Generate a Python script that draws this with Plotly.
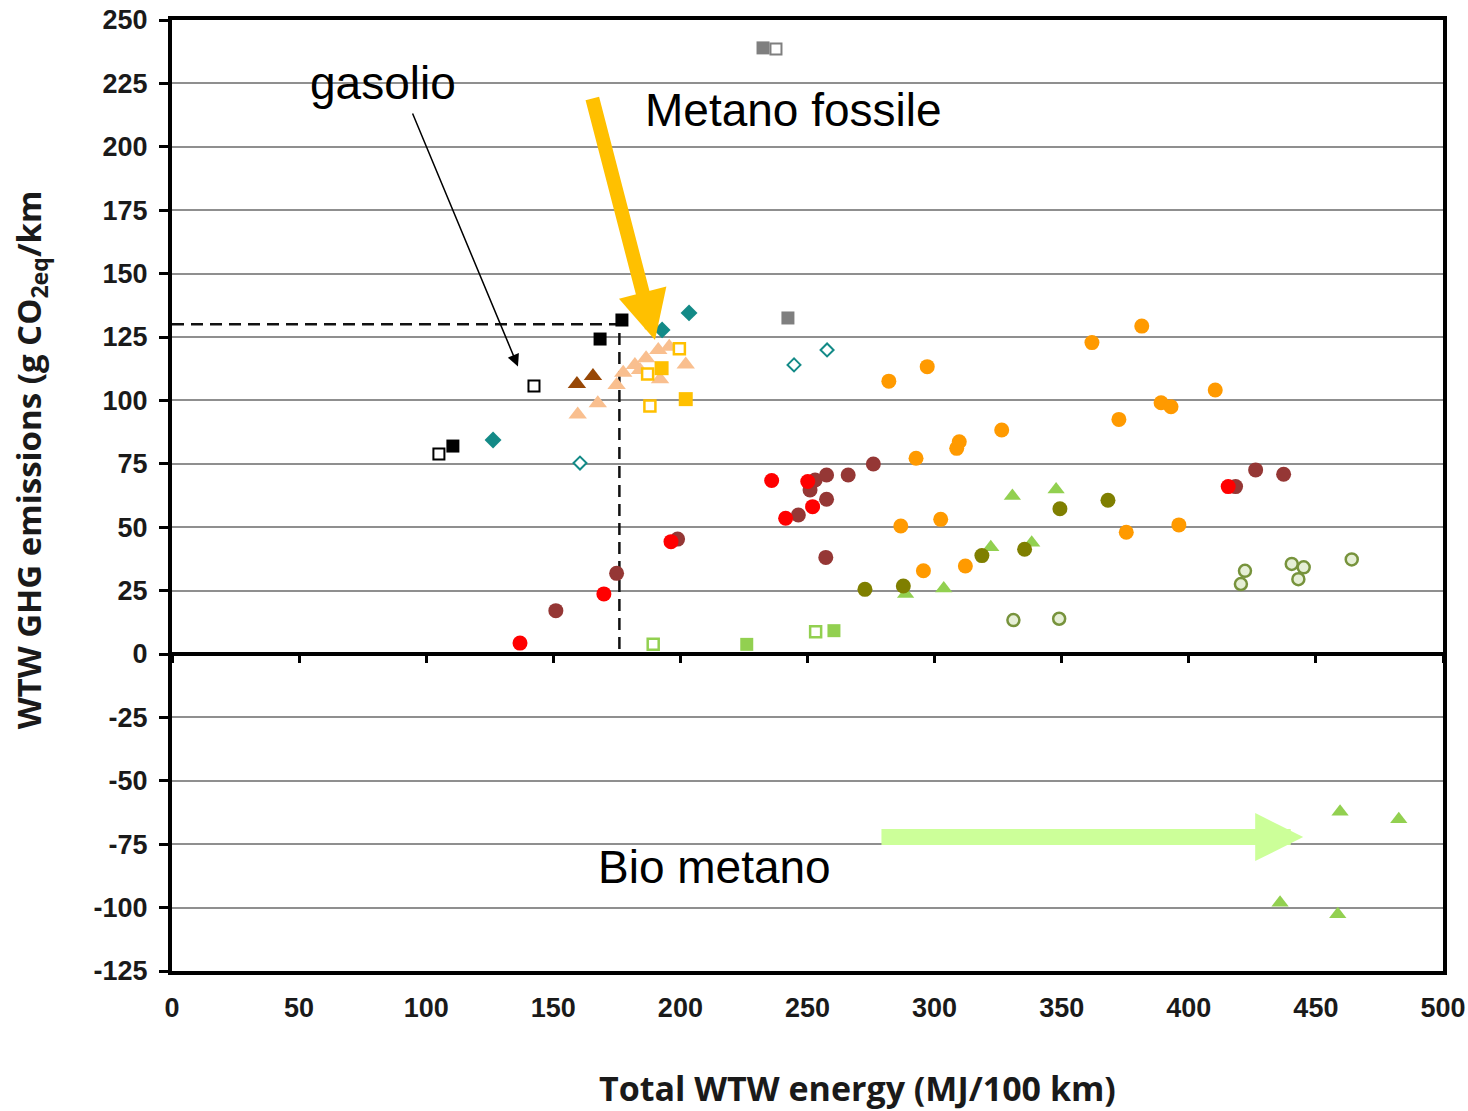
import plotly.graph_objects as go

# ---------------- data ----------------
black_sq_x = [110.5, 168.4, 177.0]
black_sq_y = [82.0, 124.2, 131.7]
black_open_x = [105.0, 142.4]
black_open_y = [78.9, 105.7]
gray_sq_x = [232.5, 242.3]
gray_sq_y = [239.0, 132.5]
gray_open_x = [237.6]
gray_open_y = [238.6]
teal_dia_x = [126.3, 192.8, 203.4]
teal_dia_y = [84.4, 127.8, 134.5]
teal_open_x = [160.5, 244.7, 257.7]
teal_open_y = [75.3, 114.0, 119.9]
brown_tri_x = [159.3, 165.6]
brown_tri_y = [106.5, 109.6]
peach_tri_x = [159.6, 167.5, 174.9, 177.5, 182.1, 184.1, 186.5, 191.3, 192.0, 195.6, 202.1]
peach_tri_y = [94.4, 98.9, 106.1, 110.9, 114.0, 112.0, 116.6, 119.9, 108.3, 121.2, 114.2]
gold_sq_x = [192.6, 202.1]
gold_sq_y = [112.7, 100.5]
gold_open_x = [187.1, 188.0, 199.6]
gold_open_y = [110.4, 97.8, 120.4]
orange_x = [282.0, 297.1, 326.4, 309.7, 308.7, 292.7, 286.7, 302.4, 295.6, 312.1,
            381.5, 361.9, 410.4, 389.1, 393.0, 372.5, 375.4, 396.1]
orange_y = [107.6, 113.3, 88.3, 83.7, 81.1, 77.2, 50.5, 53.1, 32.8, 34.7,
            129.3, 122.8, 104.1, 99.1, 97.5, 92.5, 48.0, 50.9]
darkred_x = [151.0, 174.9, 198.9, 246.4, 251.0, 253.0, 257.5, 257.5, 266.0, 275.9, 257.2, 418.4, 426.3, 437.3]
darkred_y = [17.1, 31.8, 45.3, 54.8, 64.7, 68.6, 70.6, 61.0, 70.6, 74.9, 38.1, 66.0, 72.6, 70.9]
red_x = [136.9, 169.9, 196.3, 235.9, 250.1, 252.0, 241.4, 415.5]
red_y = [4.3, 23.7, 44.3, 68.4, 68.0, 58.1, 53.5, 66.0]
green_tri_x = [330.6, 347.8, 322.1, 338.2, 288.6, 303.6, 459.5, 482.6, 435.9, 458.6]
green_tri_y = [62.3, 64.9, 42.1, 43.9, 23.7, 25.8, -62.2, -65.2, -98.1, -102.6]
olive_x = [272.6, 287.7, 318.6, 335.4, 349.3, 368.2]
olive_y = [25.5, 26.8, 38.8, 41.3, 57.3, 60.6]
green_sq_x = [226.1, 260.4]
green_sq_y = [3.8, 9.2]
green_open_x = [189.3, 253.2]
green_open_y = [3.8, 8.8]
lgreen_x = [331.0, 349.0, 422.1, 420.5, 440.5, 445.2, 443.1, 464.1]
lgreen_y = [13.4, 13.9, 32.8, 27.6, 35.5, 34.2, 29.5, 37.3]

ref_x = [0, 176, 176]
ref_y = [130, 130, 0]

y_ticks = [250, 225, 200, 175, 150, 125, 100, 75, 50, 25, 0, -25, -50, -75, -100, -125]
y_tick_text = ["250", "225", "200", "175", "150", "125", "100", "75", "50", "25", "0",
               "-25", "-50", "-75", "-100", "-125"]
x_ticks = [0, 50, 100, 150, 200, 250, 300, 350, 400, 450, 500]

# ---------------- figure ----------------
fig = go.Figure()

def add(x, y, symbol, color, size, line_color=None, line_width=0):
    fig.add_trace(go.Scatter(
        x=x, y=y, mode="markers",
        marker=dict(symbol=symbol, color=color, size=size,
                    line=dict(color=line_color if line_color else color, width=line_width)),
        showlegend=False, hoverinfo="skip"))

fig.add_trace(go.Scatter(x=ref_x, y=ref_y, mode="lines",
                         line=dict(color="#111111", width=2.5, dash="12px,7px"),
                         showlegend=False, hoverinfo="skip"))

add(black_sq_x, black_sq_y, "square", "#000000", 13)
add(black_open_x, black_open_y, "square", "#ffffff", 11, "#000000", 2)
add(gray_sq_x, gray_sq_y, "square", "#7f7f7f", 13)
add(gray_open_x, gray_open_y, "square", "#ffffff", 11, "#7f7f7f", 2)
add(teal_dia_x, teal_dia_y, "diamond", "#138a87", 13)
add(teal_open_x, teal_open_y, "diamond", "#ffffff", 10, "#138a87", 2)
add(brown_tri_x, brown_tri_y, "triangle-up", "#974706", 16)
add(peach_tri_x, peach_tri_y, "triangle-up", "#f9bf8f", 16)
add(gold_sq_x, gold_sq_y, "square", "#ffc000", 14)
add(gold_open_x, gold_open_y, "square", "#ffffff", 11, "#ffc000", 2.5)
add(orange_x, orange_y, "circle", "#ff9a00", 15)
add(darkred_x, darkred_y, "circle", "#953735", 15)
add(red_x, red_y, "circle", "#ff0000", 15)
add(green_tri_x, green_tri_y, "triangle-up", "#92d050", 15)
add(olive_x, olive_y, "circle", "#7f7f00", 15)
add(green_sq_x, green_sq_y, "square", "#92d050", 13)
add(green_open_x, green_open_y, "square", "#ffffff", 11, "#92d050", 2.5)
add(lgreen_x, lgreen_y, "circle", "#e6efd6", 12, "#77933c", 2.5)

tick_font = dict(family="Liberation Sans, Arial", size=27, color="#1a1a1a", weight="bold")
xtitle_font = dict(family="Open Sans", size=34, color="#1a1a1a", weight="bold")
ytitle_font = dict(family="Open Sans", size=33, color="#1a1a1a", weight="bold")
ann_font = dict(family="Liberation Sans, Arial", size=46, color="black")

fig.update_layout(
    width=1468, height=1111,
    margin=dict(l=172, r=25, t=20, b=140, autoexpand=False),
    paper_bgcolor="white", plot_bgcolor="white",
    xaxis=dict(range=[0, 500], tickvals=x_ticks, ticks="", showgrid=False, zeroline=False,
               showline=True, linecolor="black", linewidth=4, mirror=True,
               tickfont=tick_font, ticklabelstandoff=10, automargin=False),
    xaxis2=dict(range=[0, 500], tickvals=x_ticks, overlaying="x", anchor="free",
                position=1/3, side="bottom", ticks="outside", ticklen=8, tickwidth=3,
                tickcolor="black", showticklabels=False, showline=False,
                showgrid=False, zeroline=False, automargin=False),
    yaxis=dict(range=[-125, 250], tickvals=y_ticks, ticktext=y_tick_text,
               ticks="outside", ticklen=9, tickwidth=3, tickcolor="black",
               showgrid=True, gridcolor="#8f8f8f", gridwidth=2,
               zeroline=True, zerolinecolor="black", zerolinewidth=4,
               showline=True, linecolor="black", linewidth=4, mirror=True,
               tickfont=tick_font, ticklabelstandoff=6, automargin=False),
)

# dummy trace to activate xaxis2
fig.add_trace(go.Scatter(x=[None], y=[None], xaxis="x2", yaxis="y", showlegend=False, hoverinfo="skip"))

fig.add_annotation(text="Total WTW energy (MJ/100 km)", xref="paper", yref="paper",
                   x=0.5397, y=-0.123, showarrow=False, font=xtitle_font,
                   xanchor="center", yanchor="middle")
fig.add_annotation(text="WTW GHG emissions (g CO<sub>2eq</sub>/km", xref="paper", yref="paper",
                   x=-0.1117, y=0.537, showarrow=False, font=ytitle_font, textangle=-90,
                   xanchor="center", yanchor="middle")

fig.add_annotation(text="gasolio", x=83, y=225, showarrow=False, font=ann_font)
fig.add_annotation(text="Metano fossile", x=244.3, y=214.5, showarrow=False, font=ann_font)
fig.add_annotation(text="Bio metano", x=213.6, y=-84, showarrow=False, font=ann_font)

# arrows
fig.add_annotation(x=136.1, y=113.4, ax=94.4, ay=213.7, axref="x", ayref="y",
                   text="", showarrow=True, arrowhead=2, arrowsize=1.6,
                   arrowwidth=1.5, arrowcolor="black")
fig.add_annotation(x=190.0, y=123.8, ax=165.2, ay=219.6, axref="x", ayref="y",
                   text="", showarrow=True, arrowhead=2, arrowsize=0.7,
                   arrowwidth=14, arrowcolor="#ffc000")
fig.add_annotation(x=445.0, y=-72.2, ax=278.5, ay=-72.2, axref="x", ayref="y",
                   text="", showarrow=True, arrowhead=2, arrowsize=0.6,
                   arrowwidth=16, arrowcolor="#ccff99")

fig.write_html("out.html")
